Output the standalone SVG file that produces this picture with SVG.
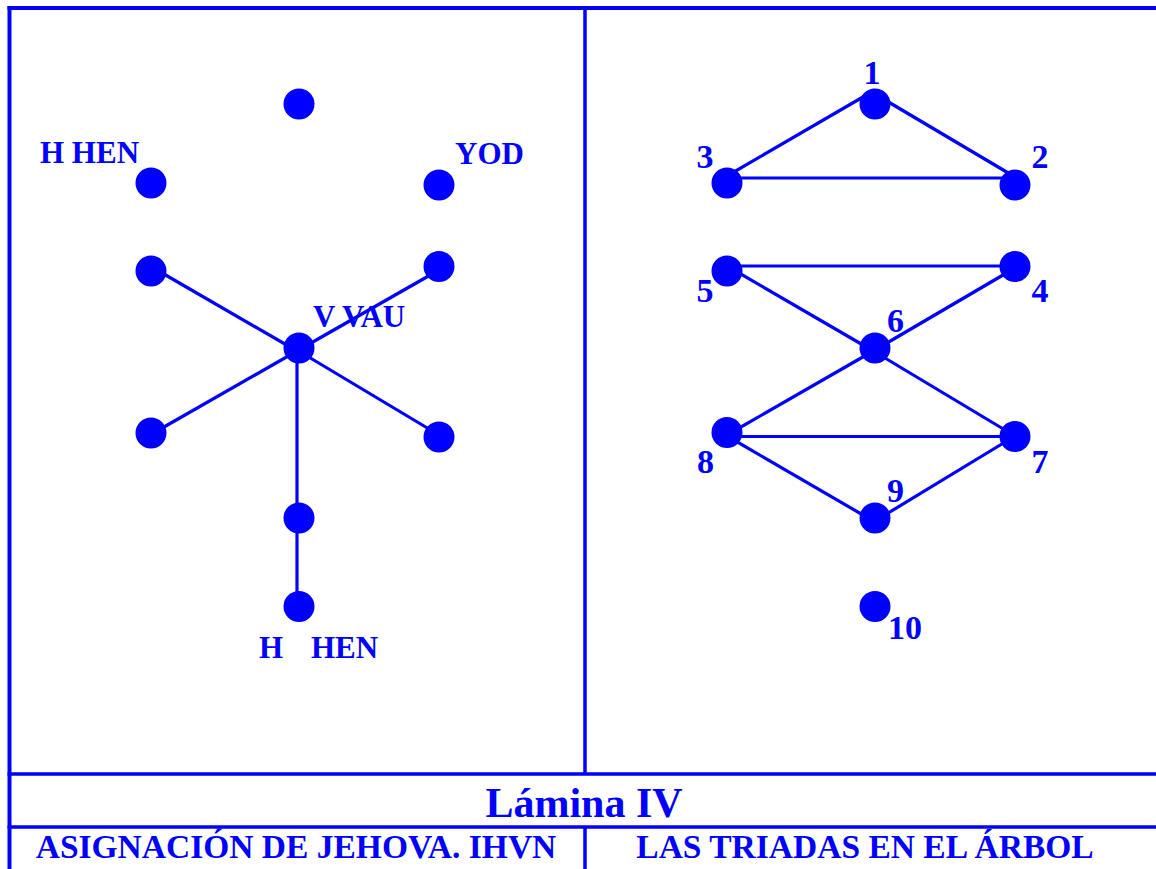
<svg xmlns="http://www.w3.org/2000/svg" width="1156" height="869" viewBox="0 0 1156 869">
<style>
.frame{stroke:#0000FF;stroke-width:4;fill:none}
.edge{stroke:#0000FF;stroke-width:3.2;fill:none;stroke-linecap:butt}
.dot{fill:#0000FF}
.lbl{font-family:"Liberation Serif","Times New Roman",serif;font-weight:bold;fill:#0000FF;font-size:31px}
.num{font-family:"Liberation Serif","Times New Roman",serif;font-weight:bold;fill:#0000FF;font-size:34px;text-anchor:middle}
.title{font-family:"Liberation Serif","Times New Roman",serif;font-weight:bold;fill:#0000FF;font-size:42px;text-anchor:middle}
.sub{font-family:"Liberation Serif","Times New Roman",serif;font-weight:bold;fill:#0000FF;font-size:33.5px;text-anchor:middle}
</style>
<rect width="1156" height="869" fill="#FFFFFF"/>
<g id="frame">
<line class="frame" x1="7.5" y1="8" x2="1156" y2="8"/>
<line class="frame" x1="9.5" y1="6" x2="9.5" y2="869"/>
<line class="frame" x1="585" y1="8" x2="585" y2="774" style="stroke-width:3.5"/>
<line class="frame" x1="585" y1="827" x2="585" y2="869" style="stroke-width:3.5"/>
<line class="frame" x1="7.5" y1="774" x2="1156" y2="774" style="stroke-width:3.5"/>
<line class="frame" x1="7.5" y1="827" x2="1156" y2="827" style="stroke-width:3.5"/>
</g>
<g id="connectors">
<line class="edge" x1="150" y1="266" x2="297" y2="351"/>
<line class="edge" x1="439" y1="270" x2="297" y2="351"/>
<line class="edge" x1="150" y1="435" x2="297" y2="351"/>
<line class="edge" x1="439" y1="435" x2="297" y2="350"/>
<line class="edge" x1="297" y1="348" x2="297" y2="606"/>
<line class="edge" x1="727" y1="176" x2="875" y2="90"/>
<line class="edge" x1="875" y1="94" x2="1015" y2="177"/>
<line class="edge" x1="727" y1="178" x2="1015" y2="178"/>
<line class="edge" x1="727" y1="266" x2="1015" y2="266"/>
<line class="edge" x1="727" y1="266" x2="875" y2="352"/>
<line class="edge" x1="1015" y1="268" x2="875" y2="350"/>
<line class="edge" x1="875" y1="350" x2="727" y2="435"/>
<line class="edge" x1="875" y1="352" x2="1015" y2="436"/>
<line class="edge" x1="727" y1="436.5" x2="1015" y2="436.5"/>
<line class="edge" x1="727" y1="436" x2="875" y2="522"/>
<line class="edge" x1="875" y1="521" x2="1015" y2="436"/>
</g>
<g id="left-top"><circle class="dot" cx="299" cy="104" r="15.5"/></g>
<g id="left-hhen"><circle class="dot" cx="151" cy="183" r="15.5"/><text class="lbl" x="40" y="163">H HEN</text></g>
<g id="left-yod"><circle class="dot" cx="439" cy="185" r="15.5"/><text class="lbl" x="455" y="164">YOD</text></g>
<g id="left-ul"><circle class="dot" cx="151" cy="271" r="15.5"/></g>
<g id="left-ur"><circle class="dot" cx="439" cy="266.5" r="15.5"/></g>
<g id="left-center"><circle class="dot" cx="299" cy="348" r="15.5"/><text class="lbl" x="313" y="327">V VAU</text></g>
<g id="left-ll"><circle class="dot" cx="151" cy="433" r="15.5"/></g>
<g id="left-lr"><circle class="dot" cx="439" cy="437" r="15.5"/></g>
<g id="left-lm"><circle class="dot" cx="299" cy="518" r="15.5"/></g>
<g id="left-bottom"><circle class="dot" cx="299" cy="606.5" r="15.5"/><text class="lbl" y="658"><tspan x="259">H</tspan><tspan x="311">HEN</tspan></text></g>
<g id="n1"><circle class="dot" cx="875" cy="104" r="15.5"/><text class="num" x="872" y="84">1</text></g>
<g id="n2"><circle class="dot" cx="1015" cy="185" r="15.5"/><text class="num" x="1040" y="168">2</text></g>
<g id="n3"><circle class="dot" cx="727" cy="183" r="15.5"/><text class="num" x="705" y="168">3</text></g>
<g id="n4"><circle class="dot" cx="1015" cy="266.5" r="15.5"/><text class="num" x="1040" y="302">4</text></g>
<g id="n5"><circle class="dot" cx="727" cy="271" r="15.5"/><text class="num" x="705" y="302">5</text></g>
<g id="n6"><circle class="dot" cx="875" cy="348" r="15.5"/><text class="num" x="895.5" y="332">6</text></g>
<g id="n7"><circle class="dot" cx="1015" cy="436.5" r="15.5"/><text class="num" x="1040" y="473">7</text></g>
<g id="n8"><circle class="dot" cx="727" cy="432.5" r="15.5"/><text class="num" x="705.5" y="473">8</text></g>
<g id="n9"><circle class="dot" cx="875" cy="518" r="15.5"/><text class="num" x="895.5" y="502">9</text></g>
<g id="n10"><circle class="dot" cx="875" cy="606.5" r="15.5"/><text class="num" x="905" y="639">10</text></g>
<g id="captions">
<text class="title" x="584" y="817">Lámina IV</text>
<text class="sub" x="296" y="858">ASIGNACIÓN DE JEHOVA. IHVN</text>
<text class="sub" x="865" y="858">LAS TRIADAS EN EL ÁRBOL</text>
</g>
</svg>
